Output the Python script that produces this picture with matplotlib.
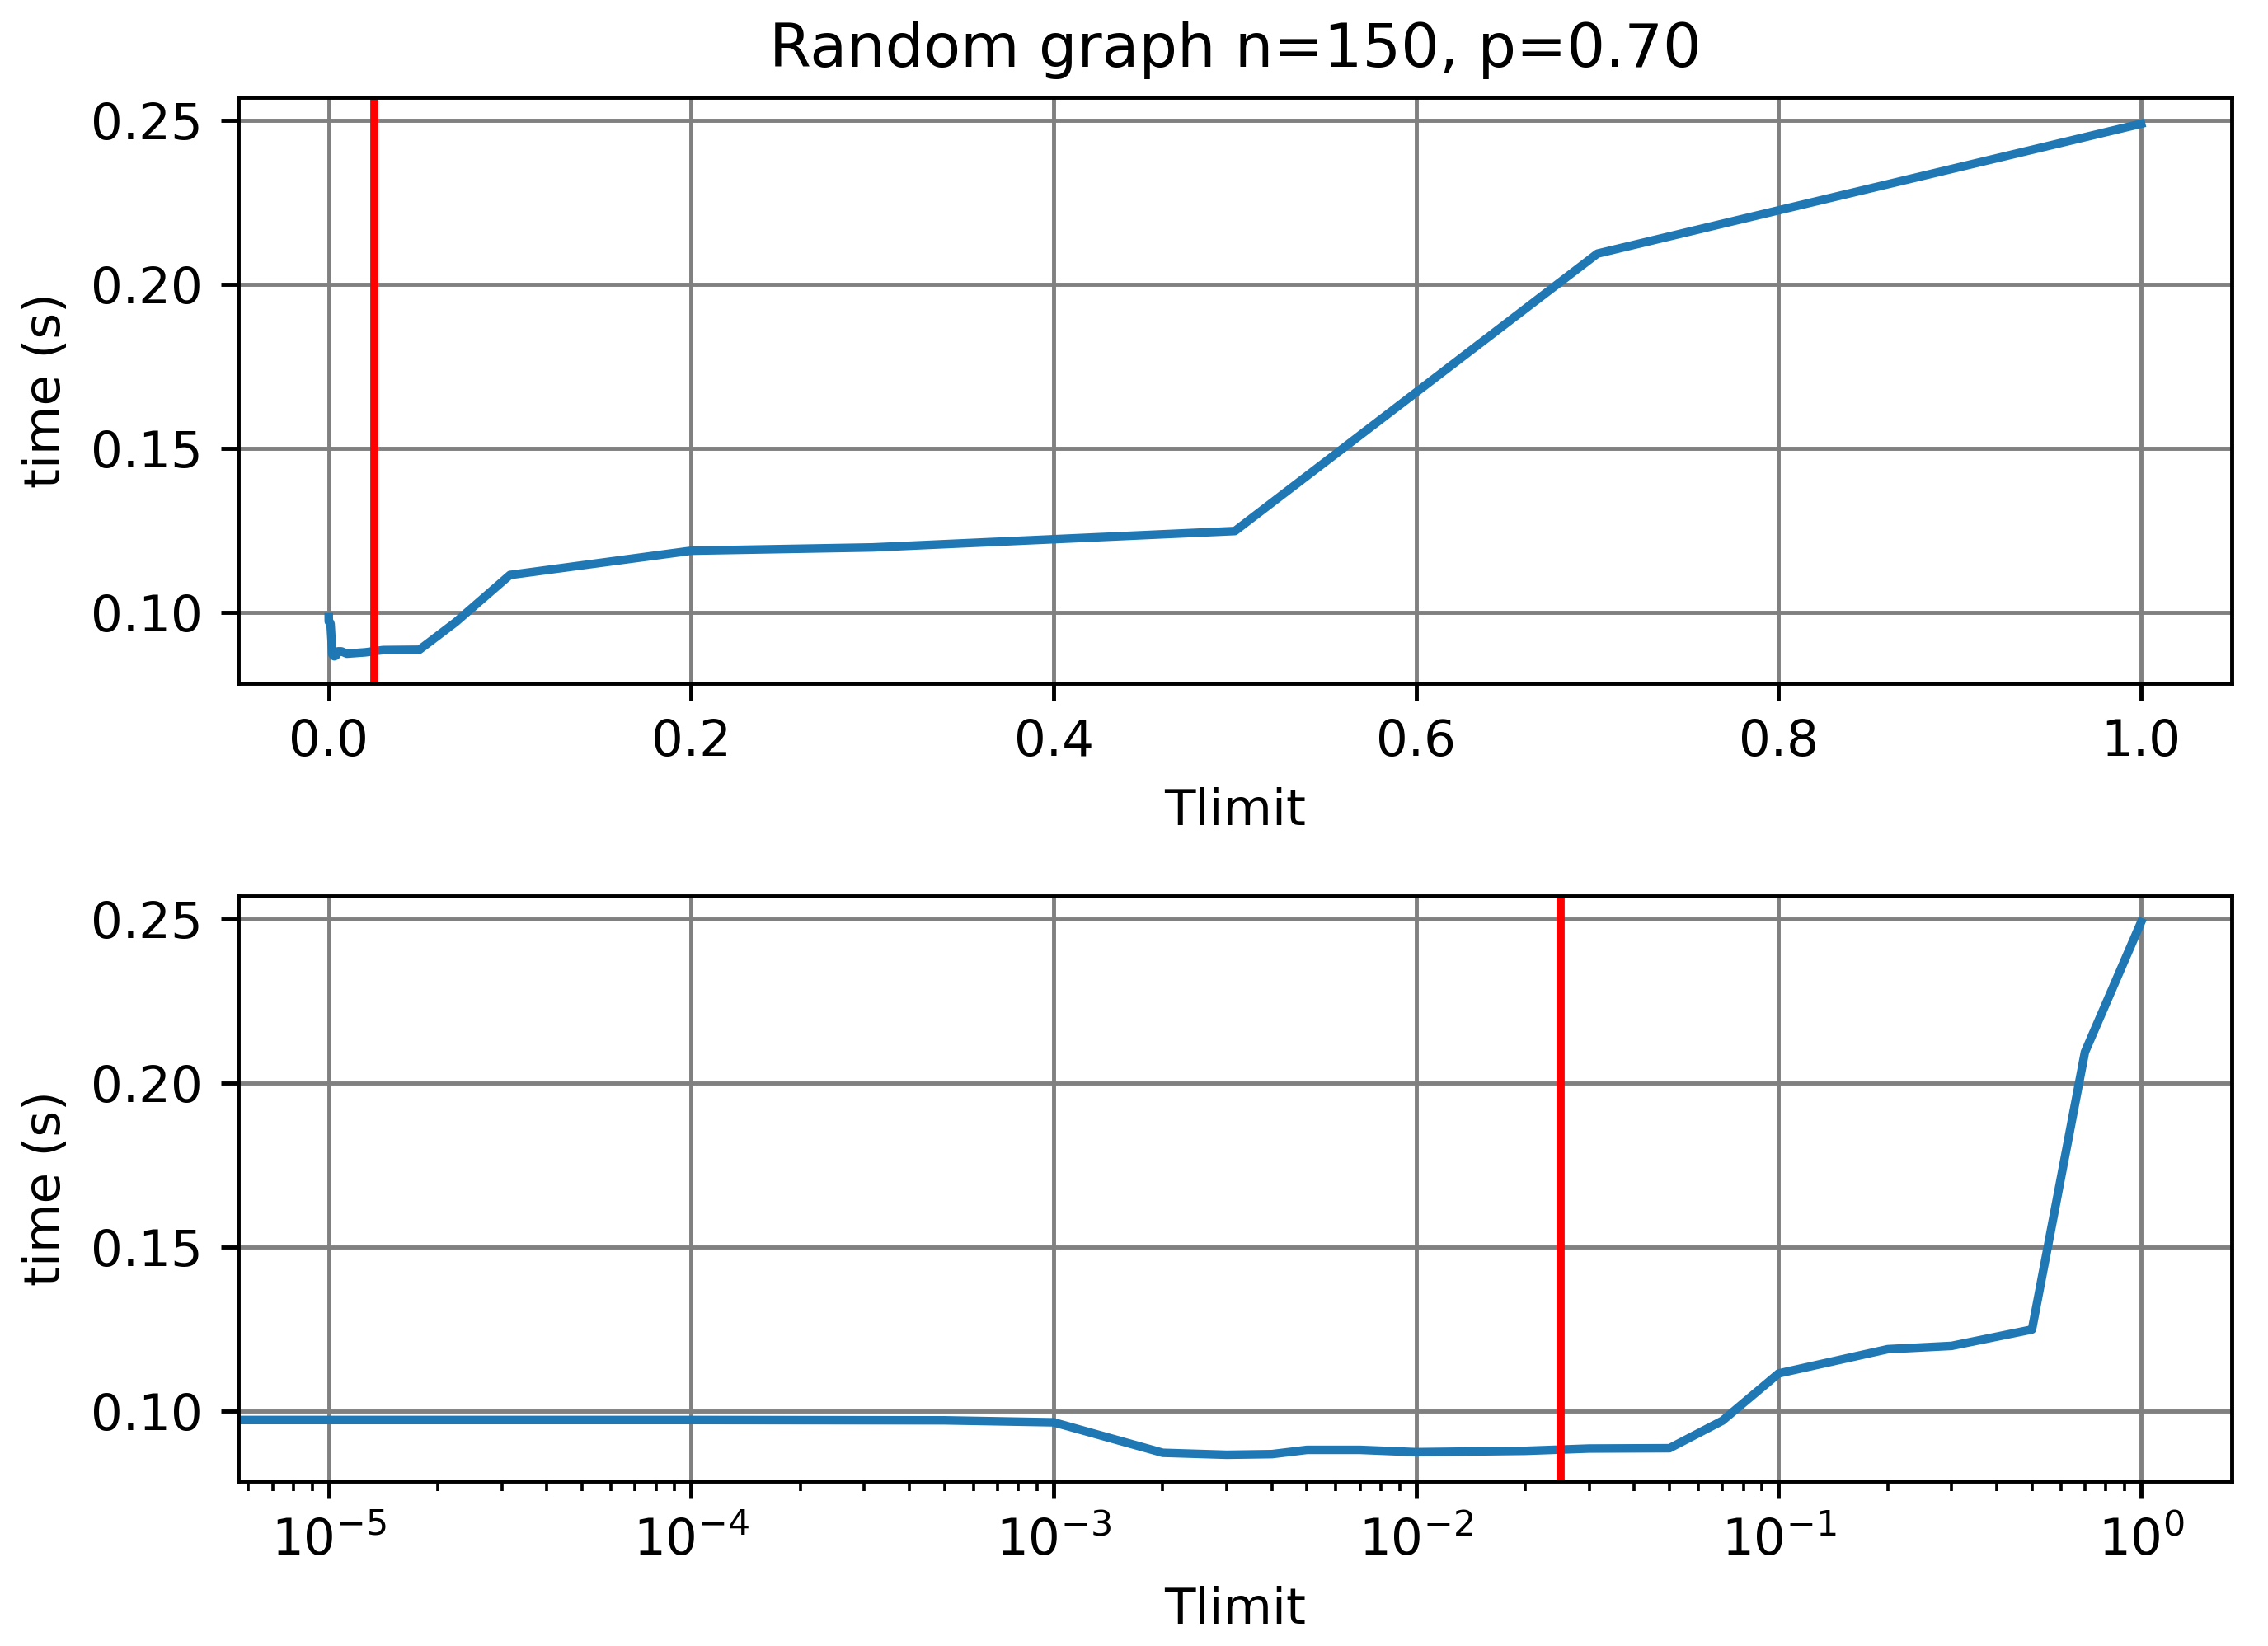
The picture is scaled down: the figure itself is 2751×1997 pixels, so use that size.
import matplotlib
matplotlib.use( 'Agg' )
import matplotlib.pyplot as plt

# measured run times for each time limit
tlimit = [ 0, 1e-5, 1e-4, 5e-4, 1e-3, 2e-3, 3e-3, 4e-3, 5e-3, 7e-3, 1e-2,
           2e-2, 3e-2, 5e-2, 7e-2, 0.1, 0.2, 0.3, 0.5, 0.7, 1.0 ]
run_time = [ 0.0985, 0.0972, 0.0972, 0.0971, 0.0965, 0.0872, 0.0866, 0.0868, 0.0881, 0.0881, 0.0874,
             0.0878, 0.0885, 0.0886, 0.0970, 0.1114, 0.1188, 0.1198, 0.1248, 0.2094, 0.2490 ]

best_tlimit = 0.025
title = 'Random graph n=150, p=0.70'

dpi = 440
fig = plt.figure( figsize = ( 2751 / dpi, 1997 / dpi ), dpi = dpi )

plt.subplot( 2, 1, 1 )
plt.title( title )
plt.plot( tlimit, run_time, linewidth = 1.7 )
plt.axvline( best_tlimit, color = 'red', linewidth = 1.6 )
plt.grid( color = 'gray' )
plt.xlabel( 'Tlimit' )
plt.ylabel( 'time (s)' )

plt.subplot( 2, 1, 2 )
plt.plot( tlimit, run_time, linewidth = 1.7 )
plt.axvline( best_tlimit, color = 'red', linewidth = 1.6 )
plt.xscale( 'log' )
plt.grid( color = 'gray' )
plt.xlabel( 'Tlimit' )
plt.ylabel( 'time (s)' )

plt.subplots_adjust( left = 0.105, right = 0.984, top = 0.941, bottom = 0.100, hspace = 0.363 )
plt.savefig( 'out.png', dpi = dpi )
